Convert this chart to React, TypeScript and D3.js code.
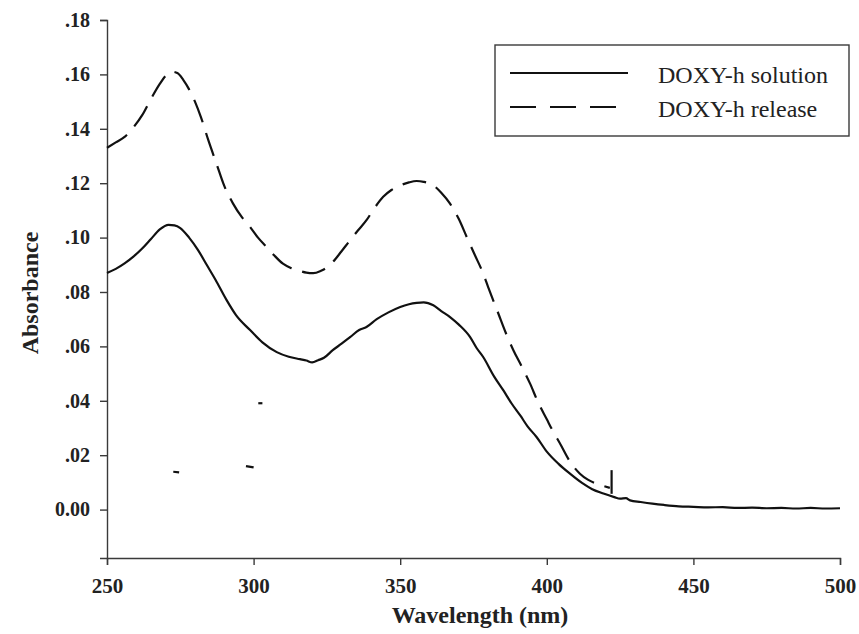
import React, { useEffect, useRef } from 'react';
import * as d3 from 'd3';

// DOXY-h solution (solid line)
const solutionWl = [250, 253, 256, 259, 262, 265, 268, 271, 273, 275, 278, 281, 284, 287, 290.8, 294, 298.8, 303, 307.9, 312, 315.8, 318, 320, 322, 324, 327, 330, 333, 336, 338.5, 342, 346, 350, 353, 355.6, 358, 361.3, 364, 367, 370, 373.8, 376, 378.3, 382, 385.2, 388, 391, 393.5, 396.5, 400, 404, 407.9, 412, 415.5, 419.3, 423, 425, 427, 428.4, 432, 436, 440, 445, 450, 455, 460, 465, 470, 475, 480, 485, 490, 495, 500];
const solutionAbs = [0.087, 0.0885, 0.0905, 0.093, 0.096, 0.0995, 0.103, 0.1047, 0.1045, 0.1035, 0.1, 0.0955, 0.09, 0.0845, 0.077, 0.0715, 0.066, 0.0615, 0.0579, 0.0562, 0.0553, 0.0548, 0.0541, 0.0549, 0.0558, 0.0586, 0.061, 0.0635, 0.066, 0.0671, 0.07, 0.0725, 0.0745, 0.0755, 0.076, 0.0762, 0.0751, 0.073, 0.0708, 0.068, 0.0635, 0.0595, 0.0561, 0.049, 0.0438, 0.039, 0.0345, 0.0305, 0.0267, 0.0213, 0.0168, 0.0132, 0.0098, 0.0075, 0.0059, 0.0046, 0.004, 0.0042, 0.0034, 0.0028, 0.0022, 0.0017, 0.0012, 0.001, 0.0008, 0.0009, 0.0006, 0.0007, 0.0005, 0.0006, 0.0004, 0.0006, 0.0004, 0.0005];

// DOXY-h release (dashed line)
const releaseWl = [250, 253, 256, 259, 262, 265, 268, 270, 272, 274, 276, 278, 280, 282, 284.5, 287.4, 290, 293, 296, 298.8, 301.5, 304.5, 307, 310, 313, 315.8, 318, 320.3, 323, 325, 327, 330, 332.9, 335.5, 338.5, 341, 344.2, 347, 350, 353, 355.6, 358, 361.3, 364, 367, 370, 372.7, 375.5, 378.3, 380, 383.5, 386, 388.6, 391.5, 394.3, 397, 400, 402, 404.5, 408, 411.3, 414, 417, 419, 421.5];
const releaseAbs = [0.133, 0.135, 0.137, 0.1405, 0.145, 0.151, 0.1565, 0.1595, 0.161, 0.1605, 0.158, 0.1545, 0.15, 0.1444, 0.136, 0.127, 0.119, 0.1125, 0.1075, 0.1039, 0.1, 0.0965, 0.0935, 0.0904, 0.0887, 0.0877, 0.0871, 0.0869, 0.0878, 0.089, 0.091, 0.095, 0.099, 0.1025, 0.1064, 0.1105, 0.115, 0.1175, 0.1192, 0.1203, 0.1208, 0.1205, 0.1192, 0.1165, 0.1125, 0.1068, 0.1002, 0.0935, 0.0868, 0.0818, 0.072, 0.065, 0.0586, 0.0525, 0.0463, 0.0395, 0.0332, 0.029, 0.0243, 0.0175, 0.0132, 0.011, 0.0095, 0.0088, 0.008];

// stray scan marks [wl1, abs1, wl2, abs2]
const strayMarks = [
  [272.6, 0.0139, 274.6, 0.0137],
  [301.6, 0.0391, 303.0, 0.0391],
  [297.4, 0.016, 300.0, 0.0155],
  [422.1, 0.0145, 422.1, 0.0058],
];

const xTicks = [250, 300, 350, 400, 450, 500];
const yTicks = [0, 0.02, 0.04, 0.06, 0.08, 0.1, 0.12, 0.14, 0.16, 0.18];
const legendLabels = ['DOXY-h solution', 'DOXY-h release'];

const W = 859, H = 634;

export default function App() {
  const ref = useRef<SVGSVGElement>(null);

  useEffect(() => {
    const svg = d3.select(ref.current);
    svg.selectAll('*').remove();

    const x = d3.scaleLinear().domain([250, 500]).range([107, 840]);
    const y = d3.scaleLinear().domain([-0.0178, 0.18]).range([558, 20]);
    const serif = '"Liberation Serif", "Times New Roman", serif';
    const axisColor = '#3a3a3a';

    // y axis
    const yAxis = svg.append('g')
      .attr('transform', `translate(${x(250)},0)`)
      .call(d3.axisLeft(y).tickValues(yTicks).tickSizeOuter(0).tickSize(7).tickPadding(10)
        .tickFormat((d: any) => (d === 0 ? '0.00' : d3.format('.2f')(d).replace(/^0/, ''))));
    yAxis.select('.domain').attr('stroke', axisColor).attr('stroke-width', 1.4);
    yAxis.selectAll('.tick line').attr('stroke', axisColor).attr('stroke-width', 1.4);
    yAxis.selectAll('.tick text')
      .attr('font-family', serif).attr('font-size', 20).attr('font-weight', 'bold').attr('fill', '#222');

    // x axis
    const xAxis = svg.append('g')
      .attr('transform', `translate(0,${y(-0.0178)})`)
      .call(d3.axisBottom(x).tickValues(xTicks).tickSizeOuter(0).tickSize(7).tickPadding(13)
        .tickFormat((d: any) => String(d)));
    xAxis.select('.domain').attr('stroke', axisColor).attr('stroke-width', 1.4);
    xAxis.selectAll('.tick line').attr('stroke', axisColor).attr('stroke-width', 1.4);
    xAxis.selectAll('.tick text')
      .attr('font-family', serif).attr('font-size', 21).attr('font-weight', 'bold').attr('fill', '#222');

    // axis titles
    svg.append('text')
      .attr('x', 480).attr('y', 623)
      .attr('text-anchor', 'middle')
      .attr('font-family', serif).attr('font-size', 24).attr('font-weight', 'bold').attr('fill', '#222')
      .text('Wavelength (nm)');
    svg.append('text')
      .attr('transform', `translate(38,${y(0.08) + 1}) rotate(-90)`)
      .attr('text-anchor', 'middle')
      .attr('font-family', serif).attr('font-size', 24).attr('font-weight', 'bold').attr('fill', '#222')
      .text('Absorbance');

    const line = d3.line<[number, number]>()
      .x(d => x(d[0])).y(d => y(d[1]))
      .curve(d3.curveMonotoneX);

    const solution = solutionWl.map((w, i) => [w, solutionAbs[i]] as [number, number]);
    const release = releaseWl.map((w, i) => [w, releaseAbs[i]] as [number, number]);

    svg.append('path')
      .attr('d', line(solution))
      .attr('fill', 'none').attr('stroke', '#111').attr('stroke-width', 2.2);
    svg.append('path')
      .attr('d', line(release))
      .attr('fill', 'none').attr('stroke', '#111').attr('stroke-width', 2.2)
      .attr('stroke-dasharray', '24 11');

    svg.selectAll('.stray')
      .data(strayMarks)
      .enter()
      .append('line')
      .attr('class', 'stray')
      .attr('x1', d => x(d[0])).attr('y1', d => y(d[1]))
      .attr('x2', d => x(d[2])).attr('y2', d => y(d[3]))
      .attr('stroke', '#111').attr('stroke-width', 2.2);

    // legend
    const lg = svg.append('g');
    lg.append('rect')
      .attr('x', 495).attr('y', 45).attr('width', 354).attr('height', 91)
      .attr('fill', 'none').attr('stroke', axisColor).attr('stroke-width', 1.4);
    legendLabels.forEach((label, i) => {
      const ly = 73 + i * 34;
      lg.append('line')
        .attr('x1', 510).attr('x2', i === 0 ? 628 : 617).attr('y1', ly).attr('y2', ly)
        .attr('stroke', '#111').attr('stroke-width', 2.2)
        .attr('stroke-dasharray', i === 0 ? null : '26 14');
      lg.append('text')
        .attr('x', 658).attr('y', ly + 10)
        .attr('font-family', serif).attr('font-size', 24).attr('fill', '#222')
        .text(label);
    });
  }, []);

  return (
    <svg ref={ref} width={W} height={H}
      style={{ position: 'absolute', left: 0, top: 0, background: '#fff' }} />
  );
}
